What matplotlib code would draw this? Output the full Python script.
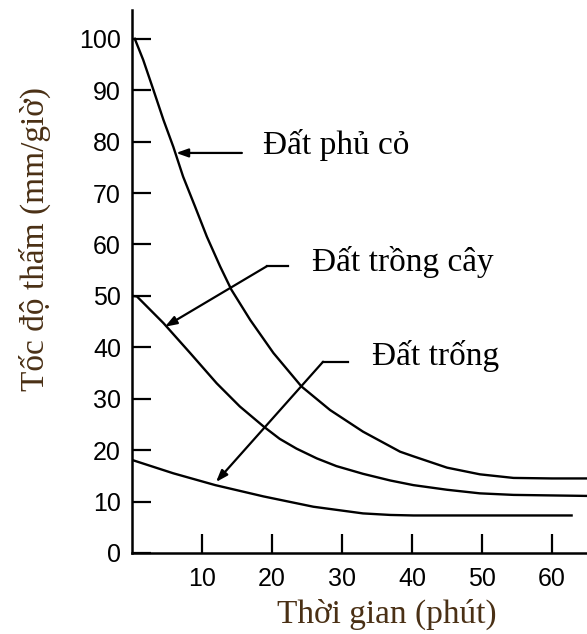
import matplotlib
matplotlib.use('Agg')
import matplotlib.pyplot as plt

# values
grass_t = [0.4, 1.6, 3.05, 4.5, 5.9, 7.3, 9.0, 10.7, 12.6, 14.2, 16.9, 20.2, 24.2,
           28.3, 33.0, 38.3, 40.2, 45.0, 49.7, 54.5, 60.0, 65.0]
grass_v = [100, 95.9, 90.1, 84.2, 79.0, 73.2, 67.4, 61.5, 55.7, 51.2, 45.3, 38.9, 32.4,
           27.8, 23.6, 19.7, 18.8, 16.6, 15.3, 14.6, 14.5, 14.5]

crop_t = [0, 0.7, 4.5, 8.3, 12.1, 15.4, 18.8, 21.1, 23.5, 26.4, 29.2, 33.0, 36.9,
          40.2, 45.0, 49.7, 54.5, 65.0]
crop_v = [50, 49.9, 44.7, 38.9, 33.0, 28.5, 24.6, 22.2, 20.3, 18.4, 16.9, 15.4, 14.1,
          13.2, 12.3, 11.6, 11.3, 11.1]

bare_t = [0, 5.9, 11.9, 18.8, 25.9, 33.0, 36.9, 40.2, 62.8]
bare_v = [18.1, 15.5, 13.2, 11.0, 9.0, 7.7, 7.4, 7.3, 7.3]

y_ticks = [0, 10, 20, 30, 40, 50, 60, 70, 80, 90, 100]
x_ticks = [10, 20, 30, 40, 50, 60]

labels = ['Đất phủ cỏ', 'Đất trồng cây', 'Đất trống']

LABEL_COLOR = '#4a3015'

fig = plt.figure(figsize=(5.87, 6.34), dpi=100)
ax = fig.add_axes([132 / 587, 81 / 634, 455 / 587, 543 / 634])

ax.plot(grass_t, grass_v, color='black', linewidth=1.7)
ax.plot(crop_t, crop_v, color='black', linewidth=1.7)
ax.plot(bare_t, bare_v, color='black', linewidth=1.7)

ax.set_xlim(0, 65)
ax.set_ylim(0, 105.6)
ax.spines['top'].set_visible(False)
ax.spines['right'].set_visible(False)
ax.spines['left'].set_linewidth(1.8)
ax.spines['bottom'].set_linewidth(1.8)

ax.set_xticks(x_ticks)
ax.set_yticks(y_ticks)
ax.tick_params(axis='both', direction='in', length=14, width=1.6,
               labelsize=18, labelfontfamily='Liberation Sans')
ax.tick_params(axis='y', pad=8)
ax.tick_params(axis='x', pad=10)

# annotations: horizontal stub then arrow to the curve
arrow = dict(arrowstyle='-|>,head_length=0.7,head_width=0.25', color='black',
             linewidth=1.6, shrinkA=0, shrinkB=0)
txt = dict(fontsize=24, family='Liberation Serif', va='center', ha='left')

ax.annotate('', xy=(6.3, 77.8), xytext=(15.7, 77.8), arrowprops=arrow)
ax.text(18.7, 79.4, labels[0], **txt)

ax.plot([22.3, 19.3], [55.8, 55.8], color='black', linewidth=1.6)
ax.annotate('', xy=(4.7, 44.0), xytext=(19.3, 55.8), arrowprops=arrow)
ax.text(25.7, 56.6, labels[1], **txt)

ax.plot([30.9, 27.3], [37.2, 37.2], color='black', linewidth=1.6)
ax.annotate('', xy=(12.0, 13.8), xytext=(27.3, 37.2), arrowprops=arrow)
ax.text(34.3, 38.3, labels[2], **txt)

fig.text(35 / 587, 1 - 239 / 634, 'Tốc độ thấm (mm/giờ)', rotation=90,
         ha='center', va='center', fontsize=24, family='Liberation Serif',
         color=LABEL_COLOR)
fig.text(387 / 587, 1 - 614 / 634, 'Thời gian (phút)', ha='center', va='center',
         fontsize=24, family='Liberation Serif', color=LABEL_COLOR)

fig.savefig('out.png', dpi=100)
